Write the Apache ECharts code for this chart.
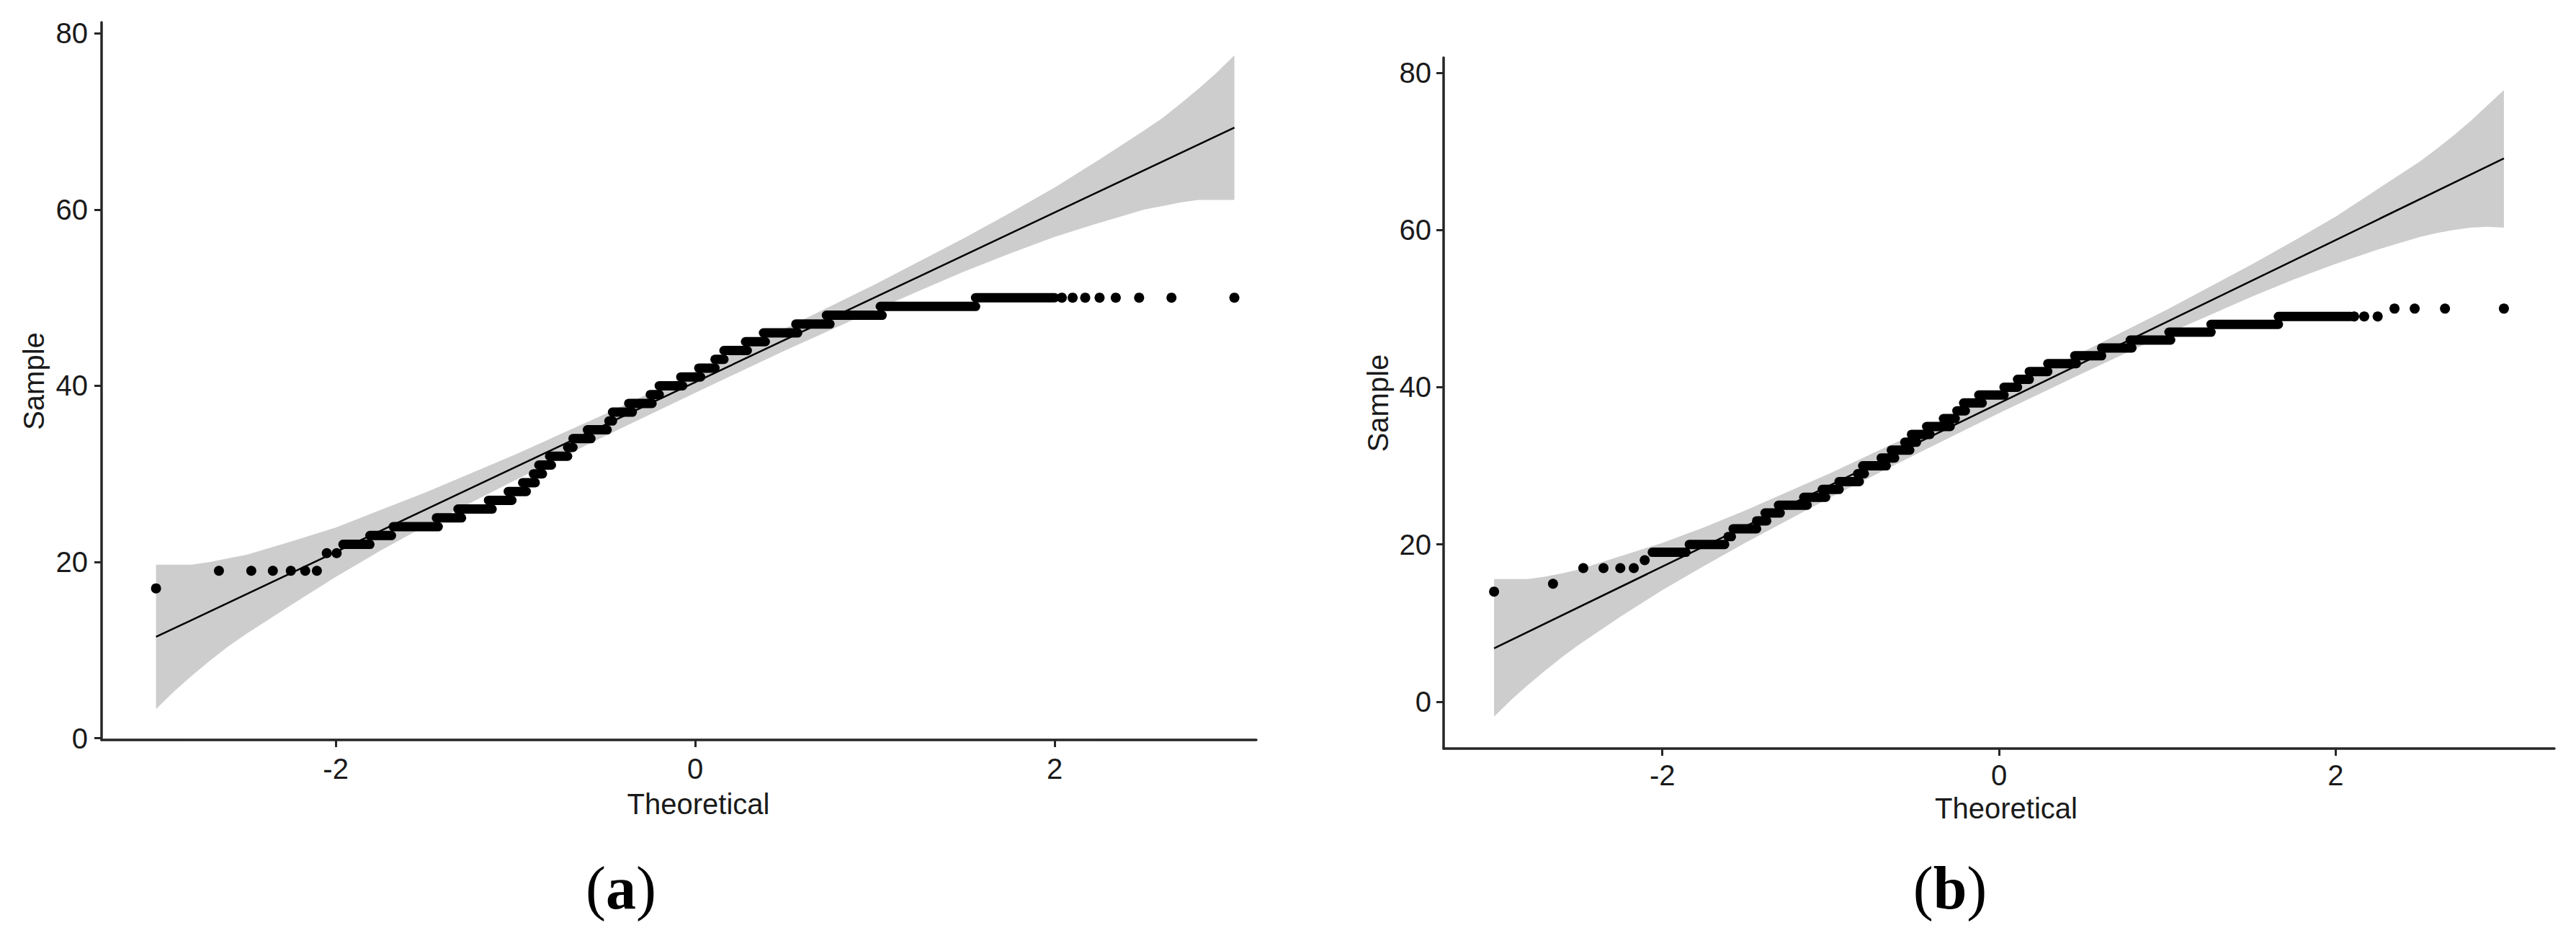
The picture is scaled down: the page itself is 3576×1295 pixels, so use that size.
<!DOCTYPE html>
<html>
<head>
<meta charset="utf-8">
<title>Q-Q plots</title>
<script src="https://cdn.jsdelivr.net/npm/echarts@6.0.0/dist/echarts.min.js"></script>
<style>
  html, body { margin: 0; padding: 0; background: #fff; }
  #chart { width: 3576px; height: 1295px; }
</style>
</head>
<body>
<div id="chart"></div>
<script>
// tick labels
const xTicks = [-2, 0, 2]
const yTicks = [0, 20, 40, 60, 80]

// ---- panel (a) ----
// single points [theoretical, sample]
const pointsA = [
  [-3.0, 17], [-2.65, 19], [-2.47, 19], [-2.35, 19], [-2.25, 19], [-2.17, 19], [-2.105, 19],
  [-2.05, 21], [-1.995, 21],
  [2.04, 50], [2.10, 50], [2.17, 50], [2.25, 50], [2.34, 50], [2.47, 50], [2.65, 50], [3.0, 50]
]
// runs of tied values [theoretical from, theoretical to, sample]
const runsA = [
  [-1.96, -1.81, 22], [-1.81, -1.69, 23], [-1.68, -1.43, 24], [-1.44, -1.30, 25],
  [-1.32, -1.13, 26], [-1.15, -1.02, 27], [-1.04, -0.94, 28], [-0.96, -0.89, 29],
  [-0.90, -0.85, 30], [-0.87, -0.80, 31], [-0.81, -0.71, 32], [-0.71, -0.68, 33],
  [-0.68, -0.58, 34], [-0.60, -0.49, 35], [-0.48, -0.46, 36], [-0.46, -0.35, 37],
  [-0.37, -0.24, 38], [-0.25, -0.20, 39], [-0.20, -0.07, 40], [-0.08, 0.03, 41],
  [0.02, 0.11, 42], [0.11, 0.16, 43], [0.16, 0.29, 44], [0.28, 0.39, 45],
  [0.38, 0.57, 46], [0.56, 0.75, 47], [0.73, 1.04, 48], [1.03, 1.56, 49], [1.56, 2.0, 50]
]
const fitA = [[-3, 11.5], [3, 69.3]]
const bandX = [-3, -2.9, -2.8, -2.7, -2.6, -2.5, -2.25, -2, -1.75, -1.5, -1, -0.5, 0, 0.5, 1, 1.5, 1.75, 2, 2.25, 2.5, 2.6, 2.7, 2.8, 2.9, 3]
const bandUpperA = [19.7, 19.7, 19.7, 20.0, 20.4, 20.8, 22.3, 23.9, 25.9, 27.9, 32.2, 36.8, 41.6, 46.5, 51.5, 56.8, 59.6, 62.5, 65.7, 69.0, 70.4, 72.0, 73.7, 75.5, 77.5]
const bandLowerA = [3.3, 5.3, 7.1, 8.8, 10.4, 11.8, 15.1, 18.3, 21.3, 24.1, 29.3, 34.3, 39.2, 44.0, 48.6, 53.0, 55.0, 56.9, 58.5, 60.0, 60.4, 60.8, 61.1, 61.1, 61.1]

// ---- panel (b) ----
const pointsB = [
  [-3.0, 14], [-2.65, 15], [-2.47, 17], [-2.35, 17], [-2.25, 17], [-2.17, 17], [-2.105, 18],
  [2.11, 49], [2.17, 49], [2.25, 49],
  [2.35, 50], [2.47, 50], [2.65, 50], [3.0, 50]
]
const runsB = [
  [-2.06, -1.86, 19], [-1.84, -1.63, 20], [-1.61, -1.59, 21], [-1.58, -1.44, 22],
  [-1.44, -1.38, 23], [-1.39, -1.30, 24], [-1.31, -1.14, 25], [-1.16, -1.03, 26],
  [-1.05, -0.95, 27], [-0.95, -0.83, 28], [-0.84, -0.80, 29], [-0.81, -0.67, 30],
  [-0.70, -0.62, 31], [-0.64, -0.53, 32], [-0.56, -0.49, 33], [-0.52, -0.41, 34],
  [-0.43, -0.29, 35], [-0.33, -0.26, 36], [-0.25, -0.20, 37], [-0.21, -0.10, 38],
  [-0.12, 0.03, 39], [0.03, 0.11, 40], [0.11, 0.18, 41], [0.18, 0.29, 42],
  [0.29, 0.46, 43], [0.45, 0.61, 44], [0.61, 0.79, 45], [0.78, 1.02, 46],
  [1.01, 1.26, 47], [1.26, 1.66, 48], [1.66, 2.09, 49]
]
const fitB = [[-3, 6.8], [3, 69.1]]
const bandUpperB = [15.6, 15.6, 15.6, 15.9, 16.3, 16.8, 18.5, 20.2, 22.2, 24.4, 29.1, 34.1, 39.3, 44.5, 49.9, 55.6, 58.6, 61.7, 65.2, 68.7, 70.3, 72.0, 73.8, 75.8, 77.8]
const bandLowerB = [-1.9, 0.2, 2.1, 3.9, 5.6, 7.2, 10.8, 14.2, 17.3, 20.3, 26.0, 31.4, 36.7, 41.8, 46.8, 51.5, 53.7, 55.7, 57.5, 59.1, 59.6, 60.0, 60.3, 60.4, 60.3]

const FONT = 'Liberation Sans, Arial, sans-serif'
const AXIS_COLOR = '#262626'
const TEXT_COLOR = '#1a1a1a'

// confidence band as one polygon
const bandRenderer = (xs, ups, lows) => (params, api) => {
  if (params.dataIndex !== 0) return null
  const pts = []
  for (let i = 0; i < xs.length; i++) pts.push(api.coord([xs[i], ups[i]]))
  for (let i = xs.length - 1; i >= 0; i--) pts.push(api.coord([xs[i], lows[i]]))
  return { type: 'polygon', shape: { points: pts }, style: { fill: '#cdcdcd' } }
}

// tied sample values drawn as thick rounded bars
const runRenderer = (params, api) => {
  const p0 = api.coord([api.value(0), api.value(2)])
  const p1 = api.coord([api.value(1), api.value(2)])
  return {
    type: 'line',
    shape: { x1: p0[0], y1: p0[1], x2: p1[0], y2: p1[1] },
    style: { stroke: '#000', lineWidth: 13, lineCap: 'round' }
  }
}

const makeX = (idx, min, max, labelMargin, nameGap, namePad) => ({
  type: 'value', gridIndex: idx, min: min, max: max,
  name: 'Theoretical', nameLocation: 'middle', nameGap: nameGap,
  nameTextStyle: { fontFamily: FONT, fontSize: 40, color: TEXT_COLOR, padding: namePad },
  axisLine: { show: true, onZero: false, lineStyle: { color: AXIS_COLOR, width: 3.5 } },
  axisTick: { show: true, length: 10, customValues: xTicks, lineStyle: { color: AXIS_COLOR, width: 3 } },
  axisLabel: { customValues: xTicks, fontFamily: FONT, fontSize: 40, color: TEXT_COLOR, margin: labelMargin },
  splitLine: { show: false }
})

const makeY = (idx, min, max, labelMargin, nameGap) => ({
  type: 'value', gridIndex: idx, min: min, max: max,
  name: 'Sample', nameLocation: 'middle', nameRotate: 90, nameGap: nameGap,
  nameTextStyle: { fontFamily: FONT, fontSize: 40, color: TEXT_COLOR },
  axisLine: { show: true, onZero: false, lineStyle: { color: AXIS_COLOR, width: 3.5 } },
  axisTick: { show: true, length: 10, customValues: yTicks, lineStyle: { color: AXIS_COLOR, width: 3 } },
  axisLabel: { customValues: yTicks, fontFamily: FONT, fontSize: 40, color: TEXT_COLOR, margin: labelMargin },
  splitLine: { show: false }
})

const panelSeries = (idx, points, runs, fit, ups, lows) => [
  {
    type: 'custom', xAxisIndex: idx, yAxisIndex: idx, z: 1, silent: true,
    data: bandX.map((v, i) => [v, ups[i], lows[i]]),
    encode: { x: 0, y: [1, 2] },
    renderItem: bandRenderer(bandX, ups, lows)
  },
  {
    type: 'line', xAxisIndex: idx, yAxisIndex: idx, z: 2, data: fit,
    symbol: 'none', lineStyle: { color: '#000', width: 2.5 }
  },
  {
    type: 'custom', xAxisIndex: idx, yAxisIndex: idx, z: 3, data: runs,
    encode: { x: [0, 1], y: 2 },
    renderItem: runRenderer
  },
  {
    type: 'scatter', xAxisIndex: idx, yAxisIndex: idx, z: 4, data: points,
    symbol: 'circle', symbolSize: 14, itemStyle: { color: '#000', opacity: 1 }
  }
]

const caption = (letter, x, y) => ({
  type: 'text', x: x, y: y,
  style: {
    text: '{p|(}{b|' + letter + '}{p|)}',
    align: 'center', verticalAlign: 'middle',
    rich: {
      p: { fontFamily: 'Liberation Serif, Times New Roman, serif', fontSize: 84, fontWeight: 'normal', fill: '#000' },
      b: { fontFamily: 'Liberation Serif, Times New Roman, serif', fontSize: 84, fontWeight: 'bold', fill: '#000' }
    }
  }
})

const chart = echarts.init(document.getElementById('chart'), null, { renderer: 'svg' })

const option = {
  animation: false,
  backgroundColor: '#fff',
  grid: [
    { left: 141, top: 31, width: 1603, height: 996 },
    { left: 2004, top: 80, width: 1542, height: 959 }
  ],
  xAxis: [
    makeX(0, -3.303, 3.122, 20, 69, [0, 0, 0, 54]),
    makeX(1, -3.3, 3.3, 17, 63, [0, 0, 0, 20])
  ],
  yAxis: [
    makeY(0, -0.2, 81.25, 19, 74),
    makeY(1, -5.96, 81.92, 17, 71)
  ],
  series: [
    ...panelSeries(0, pointsA, runsA, fitA, bandUpperA, bandLowerA),
    ...panelSeries(1, pointsB, runsB, fitB, bandUpperB, bandLowerB)
  ],
  graphic: [
    caption('a', 862, 1232),
    caption('b', 2707, 1232)
  ]
}

chart.setOption(option)
</script>
</body>
</html>
